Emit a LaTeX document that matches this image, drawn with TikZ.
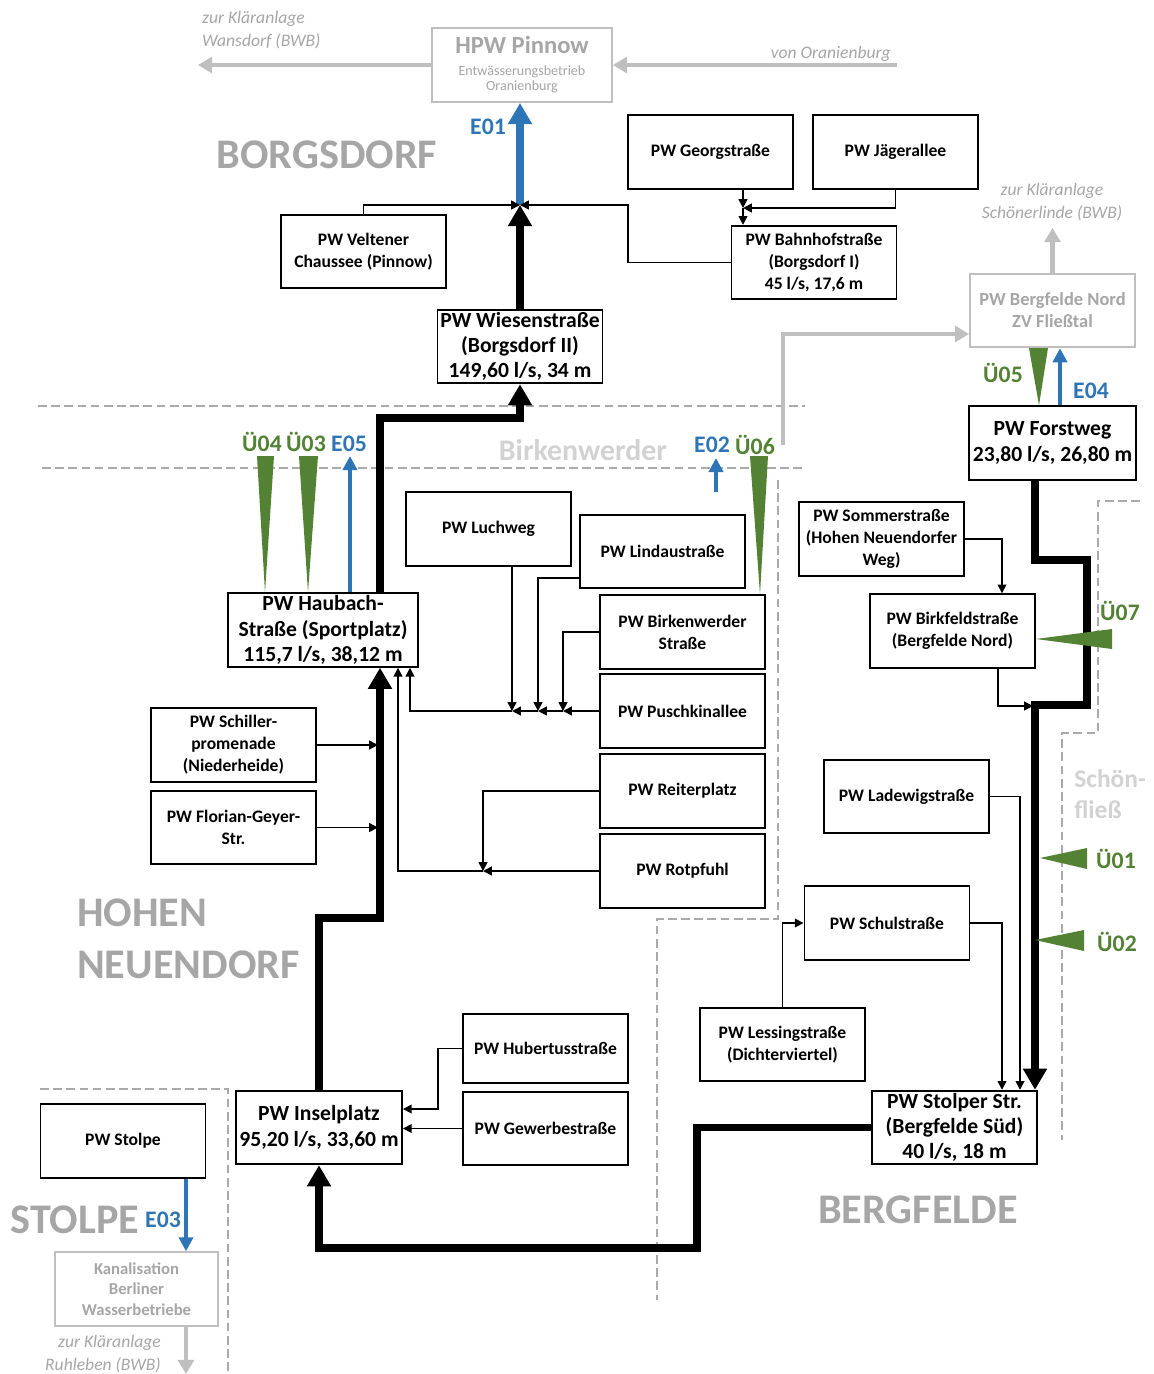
\documentclass[tikz,border=0pt]{standalone}
\usepackage{fontspec}
\setmainfont{Carlito}
\usetikzlibrary{arrows.meta}
\definecolor{eblue}{RGB}{46,117,182}
\definecolor{ugreen}{RGB}{84,130,53}
\definecolor{greytext}{RGB}{166,166,166}
\definecolor{greylight}{RGB}{210,210,210}
\definecolor{greyline}{RGB}{191,191,191}
\definecolor{greydash}{RGB}{170,170,170}

\begin{document}
\begin{tikzpicture}
  [x=0.02cm,y=-0.02cm]
  \tikzstyle{box_style} = [draw=black, line width=1.1pt, fill=white, align=center, inner sep=1pt, minimum width=3.3cm, minimum height=1.47cm, font=\bfseries\fontsize{10}{12.5}\selectfont]
  \tikzstyle{big_style} = [box_style, font=\bfseries\fontsize{12.3}{14.4}\selectfont]
  \tikzstyle{grey_box_style} = [box_style, draw=greyline, text=greytext]
  \tikzstyle{edge_style} = [draw=black, line width=0.9pt, -{Triangle[length=5pt,width=5pt]}]
  \tikzstyle{main_style} = [draw=black, line width=4.5pt, -{Triangle[length=12pt,width=13pt]}]
  \tikzstyle{e_style} = [draw=eblue, line width=2.2pt, -{Triangle[length=8pt,width=8pt]}]
  \tikzstyle{grey_edge_style} = [draw=greyline, line width=2.8pt, -{Triangle[length=8pt,width=9pt]}]
  \tikzstyle{border_style} = [draw=greydash, line width=1.3pt, dash pattern=on 5pt off 2.5pt]
  \tikzstyle{region_style} = [text=greytext, font=\bfseries\fontsize{24}{29.6}\selectfont, align=left]
  \tikzstyle{note_style} = [text=greytext, font=\itshape\fontsize{10}{13}\selectfont]
  \tikzstyle{e_label} = [text=eblue, font=\bfseries\fontsize{13.5}{15}\selectfont]
  \tikzstyle{u_label} = [text=ugreen, font=\bfseries\fontsize{13.5}{15}\selectfont]
  \useasboundingbox (0,0) rectangle (1154,1374);

  \draw[border_style] (38,406) -- (805,406);
  \draw[border_style] (42,468) -- (805,468);
  \draw[border_style] (778,480) -- (778,919) -- (657,919) -- (657,1300);
  \draw[border_style] (1140,501) -- (1098,501) -- (1098,733) -- (1062,733) -- (1062,1140);
  \draw[border_style] (40,1089) -- (228,1089) -- (228,1374);

  \node[grey_box_style, minimum width=3.6cm, minimum height=1.48cm, font=\bfseries\fontsize{8}{9}\selectfont] (pinnow) at (522,65) {{\fontsize{14}{15}\selectfont HPW Pinnow}\\[3pt]{\mdseries Entwässerungsbetrieb}\\{\mdseries Oranienburg}};
  \node[box_style] (georg) at (710.5,152) {PW Georgstraße};
  \node[box_style] (jaeger) at (895.5,152) {PW Jägerallee};
  \node[box_style] (bahnhof) at (814,262.5) {PW Bahnhofstraße\\(Borgsdorf I)\\45 l/s, 17,6 m};
  \node[box_style] (veltener) at (363.5,251.5) {PW Veltener\\Chaussee (Pinnow)};
  \node[big_style] (wiesen) at (520,346.5) {PW Wiesenstraße\\(Borgsdorf II)\\149,60 l/s, 34 m};
  \node[grey_box_style, font=\bfseries\fontsize{10.5}{12.5}\selectfont] (bergnord) at (1052.5,310.5) {PW Bergfelde Nord\\ZV Fließtal};
  \node[big_style, minimum width=3.34cm] (forst) at (1052.5,443) {PW Forstweg\\23,80 l/s, 26,80 m};
  \node[box_style] (luchweg) at (488.5,529) {PW Luchweg};
  \node[box_style] (lindau) at (662.5,551.5) {PW Lindaustraße};
  \node[box_style] (birkenw) at (682.5,632) {PW Birkenwerder\\Straße};
  \node[box_style] (puschkin) at (682.5,711) {PW Puschkinallee};
  \node[box_style] (reiter) at (682.5,791) {PW Reiterplatz};
  \node[box_style] (rotpfuhl) at (682.5,871) {PW Rotpfuhl};
  \node[big_style, minimum width=3.8cm] (haubach) at (323,630) {PW Haubach-\\Straße (Sportplatz)\\115,7 l/s, 38,12 m};
  \node[box_style] (schiller) at (233.5,745) {PW Schiller-\\promenade\\(Niederheide)};
  \node[box_style] (florian) at (233.5,827.5) {PW Florian-Geyer-\\Str.};
  \node[box_style] (sommer) at (881.5,539) {PW Sommerstraße\\(Hohen Neuendorfer\\Weg)};
  \node[box_style] (birkfeld) at (952.5,631) {PW Birkfeldstraße\\(Bergfelde Nord)};
  \node[box_style] (ladewig) at (906.5,796.5) {PW Ladewigstraße};
  \node[box_style] (schul) at (887,923) {PW Schulstraße};
  \node[box_style] (lessing) at (782.5,1044.5) {PW Lessingstraße\\(Dichterviertel)};
  \node[big_style] (stolper) at (954.5,1127.5) {PW Stolper Str.\\(Bergfelde Süd)\\40 l/s, 18 m};
  \node[big_style, minimum width=3.32cm] (insel) at (319,1127.5) {PW Inselplatz\\95,20 l/s, 33,60 m};
  \node[box_style, minimum height=1.38cm] (hubertus) at (545.5,1048.5) {PW Hubertusstraße};
  \node[box_style] (gewerbe) at (545.5,1128.5) {PW Gewerbestraße};
  \node[box_style] (stolpe) at (123,1141) {PW Stolpe};
  \node[grey_box_style, minimum width=3.26cm, font=\bfseries\fontsize{9.5}{11.5}\selectfont] (kanal) at (136.5,1289) {Kanalisation\\Berliner\\Wasserbetriebe};

  \node[note_style, anchor=west, align=left] (wansdorf) at (196,30) {zur Kläranlage\\Wansdorf (BWB)};
  \node[note_style, anchor=east] (oranien) at (897,54) {von Oranienburg};
  \node[note_style, align=center] (schoener) at (1052,202) {zur Kläranlage\\Schönerlinde (BWB)};
  \node[note_style, anchor=east, align=right] (ruhleben) at (167,1354) {zur Kläranlage\\Ruhleben (BWB)};

  \node[region_style] (borgsdorf) at (327,155) {BORGSDORF};
  \node[region_style, anchor=west] (hohen) at (71,939) {HOHEN\\NEUENDORF};
  \node[region_style] (bergfelde) at (918,1210) {BERGFELDE};
  \node[region_style] (stolpeort) at (75,1220) {STOLPE};
  \node[region_style, text=greylight, font=\bfseries\fontsize{17}{20}\selectfont] (birken) at (583,450) {Birkenwerder};
  \node[region_style, anchor=west, inner sep=0pt, text=greylight, font=\bfseries\fontsize{14.5}{18}\selectfont] (schoen) at (1074,794) {Schön-\\fließ};

  \coordinate (j1) at (520,205);
  \coordinate (j2) at (743,208);
  \coordinate (j3) at (563,711);
  \coordinate (j4) at (538,711);
  \coordinate (j5) at (512,711);
  \coordinate (j6) at (483,871);
  \coordinate (e02a) at (716,492);
  \coordinate (e02b) at (716,458);

  \draw[grey_edge_style] (pinnow.west) -- (198,65);
  \draw[grey_edge_style] (897,65) -- (pinnow.east);
  \draw[grey_edge_style, line width=2pt] (783,445) |- (bergnord.west |- 0,334);
  \draw[grey_edge_style] (bergnord.north) -- (1052.5,228);
  \draw[grey_edge_style] (kanal.south -| 186,0) -- (186,1374);

  \draw[e_style, line width=4.5pt, -{Triangle[length=12pt,width=13pt]}] (j1) -- (pinnow.south -| j1);
  \draw[main_style] (wiesen.north) -- (j1);
  \draw[edge_style] (veltener.north) |- (j1);
  \draw[edge_style] (bahnhof.west) -| (628,205) -- (j1);
  \draw[edge_style] (georg.south -| j2) -- (j2);
  \draw[edge_style] (jaeger.south) |- (j2);
  \draw[edge_style] (j2) -- (bahnhof.north -| j2);

  \draw[main_style] (haubach.north -| 380,0) -- (380,418) -| (wiesen.south);
  \draw[main_style] (insel.north) |- (380,918) -- (haubach.south -| 380,0);
  \draw[main_style] (stolper.west) -| (697,1248) -| (insel.south);
  \draw[main_style] (forst.south -| 1035,0) |- (1087,560) |- (1035,705) -- (stolper.north -| 1035,0);

  \draw[edge_style] (puschkin.west) -- (j3);
  \draw[edge_style] (j3) -- (j4);
  \draw[edge_style] (j4) -- (j5);
  \draw[edge_style] (j5) -| (haubach.south -| 410,0);
  \draw[edge_style] (luchweg.south -| j5) -- (j5);
  \draw[edge_style] (lindau.west |- 0,578) -| (j4);
  \draw[edge_style] (birkenw.west) -| (j3);
  \draw[edge_style] (reiter.west) -| (j6);
  \draw[edge_style] (rotpfuhl.west) -- (j6);
  \draw[edge_style] (j6) -| (haubach.south -| 398,0);
  \draw[edge_style] (schiller.east) -- (schiller.east -| 378,0);
  \draw[edge_style] (florian.east) -- (florian.east -| 378,0);

  \draw[edge_style] (sommer.east) -| (birkfeld.north -| 1002,0);
  \draw[edge_style] (birkfeld.south -| 998,0) |- (1033,706);
  \draw[edge_style] (ladewig.east) -| (stolper.north -| 1020,0);
  \draw[edge_style] (schul.east) -| (stolper.north -| 1002,0);
  \draw[edge_style] (lessing.north) |- (schul.west);
  \draw[edge_style] (hubertus.west) -| (438,1109) -- (insel.east |- 0,1109);
  \draw[edge_style] (gewerbe.west) -- (insel.east |- gewerbe.west);

  \draw[e_style] (haubach.north -| 350,0) -- (350,456);
  \draw[e_style] (e02a) -- (e02b);
  \draw[e_style] (forst.north -| 1060,0) -- (bergnord.south -| 1060,0);
  \draw[e_style] (stolpe.south -| 186,0) -- (kanal.north -| 186,0);

  \fill[ugreen] (257,456) -- (274,456) -- (haubach.north -| 265,0) -- cycle;
  \fill[ugreen] (299,456) -- (318,456) -- (haubach.north -| 308,0) -- cycle;
  \fill[ugreen] (750,456) -- (768,456) -- (birkenw.north -| 760,0) -- cycle;
  \fill[ugreen] (1029,348) -- (1048,348) -- (forst.north -| 1039,0) -- cycle;
  \fill[ugreen] (1112,629) -- (1112,649) -- (birkfeld.east |- 0,639) -- cycle;
  \fill[ugreen] (1087,848) -- (1087,869) -- (1040,858) -- cycle;
  \fill[ugreen] (1084,930) -- (1084,951) -- (1035,940) -- cycle;

  \node[e_label] (e01) at (488,127) {E01};
  \node[e_label] (e05) at (349,444) {E05};
  \node[e_label] (e02) at (712,445) {E02};
  \node[e_label] (e04) at (1091,391) {E04};
  \node[e_label] (e03) at (163,1220) {E03};
  \node[u_label] (u04) at (262,442) {Ü04};
  \node[u_label] (u03) at (306,442) {Ü03};
  \node[u_label] (u06) at (755,445) {Ü06};
  \node[u_label] (u05) at (1003,373) {Ü05};
  \node[u_label] (u07) at (1120,611) {Ü07};
  \node[u_label] (u01) at (1116,859) {Ü01};
  \node[u_label] (u02) at (1117,942) {Ü02};
\end{tikzpicture}
\end{document}
